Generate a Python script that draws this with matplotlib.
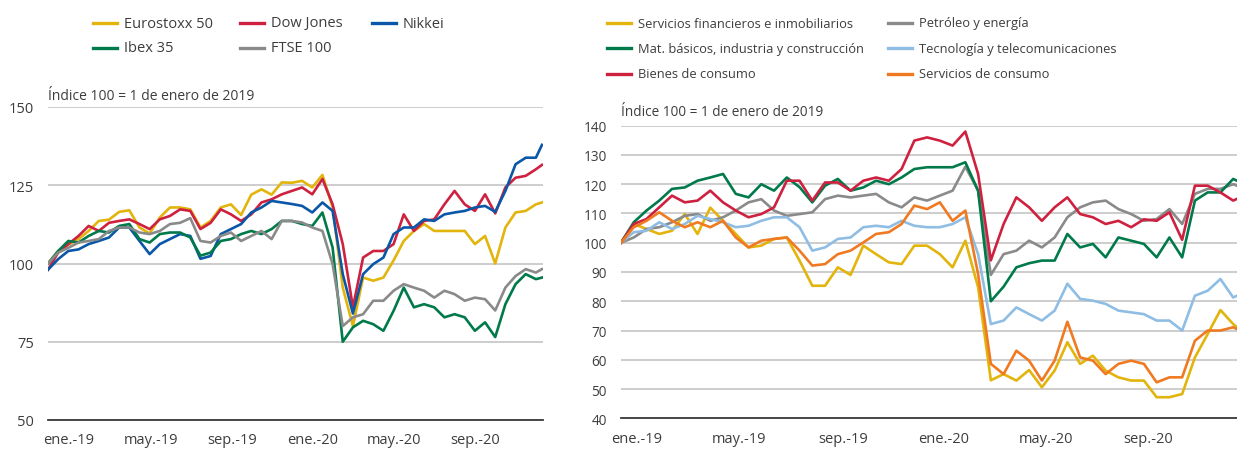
import numpy as np
import matplotlib
matplotlib.use("Agg")
import matplotlib.pyplot as plt
from matplotlib.lines import Line2D

# Time axis: months since 1 Jan 2019 (half-month steps, plus the last trading day)
meses = np.arange(0, 24.5, 0.5)
t_izq = np.append(meses, 24.3)
t_der = np.append(meses, 24.15)

# Left panel: stock indices (index 100 = 1 Jan 2019)
eurostoxx = [100, 104, 106, 107.8, 110.4, 113.6, 114, 116.5, 117, 111.5, 109.6, 114.7, 117.9,
             117.9, 117.3, 111.5, 113.6, 117.9, 118.9, 115.5, 122, 123.7, 122, 125.9, 125.8,
             126.4, 124.3, 128.3, 118, 92.3, 80, 95.5, 94.5, 95.5, 101, 107.2, 110.4, 112.6,
             110.4, 110.4, 110.4, 110.4, 106.2, 108.8, 100, 111.5, 116.3, 116.8, 118.9, 119.5]
dow_jones = [98, 103.5, 106.2, 108.8, 112, 110.4, 113, 113.6, 114.1, 112.6, 111, 114.1, 115.2,
             117.3, 116.8, 111, 113, 117.3, 115.7, 113.6, 115.7, 119.5, 120.5, 122.1, 123.2,
             124.3, 122.1, 127, 118.9, 106.2, 86, 101.9, 104, 104, 106.2, 115.7, 110.4, 113.6,
             114.1, 118.9, 123.2, 118.9, 116.8, 122.1, 116, 124.3, 127.4, 128, 130.1, 131.5]
nikkei = [98, 101.4, 104, 104.5, 106.2, 107.2, 108.3, 111.5, 111.5, 107.2, 103, 106.2, 107.8,
          109.4, 108.8, 101.5, 102.4, 109.4, 111, 112.6, 116.3, 117.9, 120, 119.5, 119,
          118.4, 116.3, 119.5, 116.8, 96.6, 84, 96.6, 99.8, 101.9, 109.4, 111.5, 111.5, 114.1,
          113.6, 115.7, 116.3, 116.8, 117.9, 118.4, 116.5, 123.2, 131.7, 133.8, 133.8, 137.9]
ibex = [100, 104, 107.2, 106.7, 108.8, 110.4, 109.9, 112, 112.6, 107.8, 106.7, 109.4, 109.9,
        109.9, 108.3, 102.5, 103.5, 107.2, 107.8, 109.4, 110.4, 109.4, 111, 113.6, 113.6,
        112.6, 112, 116.3, 105.1, 75, 79.6, 81.7, 80.6, 78.5, 84.9, 92.3, 86, 87,
        86, 82.8, 83.8, 82.8, 78.5, 81.2, 76.5, 87, 93.4, 96.6, 95, 95.5]
ftse = [100, 103.5, 105, 106.7, 107.2, 107.8, 110.4, 111.5, 111.5, 109.9, 109.4, 110.4, 112.6,
        113, 114.5, 107.2, 106.7, 108.8, 109.9, 107.2, 108.8, 110.4, 107.8, 113.6, 113.6,
        113.1, 111.5, 110.4, 99.8, 80, 82.8, 83.8, 88.1, 88.1, 91.3, 93.4, 92.3, 91.3,
        89.1, 91.3, 90.2, 88.1, 89.1, 88.6, 85, 92.3, 96, 98.2, 97.1, 98.2]

# Right panel: Ibex sectors (index 100 = 1 Jan 2019)
financieros = [100, 106.4, 104.7, 103, 104.1, 109.8, 103, 112, 107.5, 103, 98.4, 99, 101.3,
               101.8, 93.9, 85.3, 85.3, 91.6, 89, 99, 96.1, 93.3, 92.7, 99, 99,
               96.1, 91.6, 100.7, 84.8, 53, 55.1, 52.9, 56.5, 50.6, 56.3, 66, 58.6, 61.4,
               56.3, 54, 52.9, 52.9, 47.2, 47.2, 48.3, 60.8, 68.8, 77, 72.2, 71.1]
petroleo = [100, 101.8, 104.7, 105.3, 107, 109.2, 109.8, 107.5, 108.7, 111, 113.8, 114.9, 111,
            109.2, 109.8, 110.4, 114.9, 116.1, 115.5, 116.1, 116.7, 113.8, 112.1, 115.5, 114.4,
            116.1, 117.8, 126, 117.8, 89, 96.1, 97.3, 100.7, 98.4, 101.8, 108.7, 112.1, 113.8,
            114.4, 111.5, 109.8, 107.5, 108.1, 111.5, 106.4, 116.7, 118.4, 118.4, 120, 119.5]
materiales = [100, 107, 111, 114.4, 118.4, 118.9, 121.2, 122.3, 123.5, 116.7, 115.5, 120, 117.8,
              122.3, 119, 113.8, 119.5, 121.8, 117.8, 118.9, 121.2, 120, 122.3, 125.2, 125.8,
              125.8, 125.8, 127.5, 117.8, 80, 85, 91.6, 93, 93.9, 93.9, 103, 98.4, 99.6,
              95, 101.8, 100.7, 99.6, 95, 101.8, 95, 114.4, 117.2, 117.2, 121.8, 121.2]
tecnologia = [100, 103.6, 104.1, 107, 104.7, 106.4, 109.2, 108.1, 107, 105.3, 105.8, 107.5, 108.7,
              108.7, 105.3, 97.3, 98.4, 101.3, 101.8, 105.3, 105.8, 105.3, 107.5, 105.8, 105.3,
              105.3, 106.4, 108.7, 96.1, 72.2, 73.4, 77.9, 75.6, 73.4, 76.8, 86, 80.8, 80.2,
              79.1, 76.8, 76.2, 75.6, 73.4, 73.4, 70, 81.9, 83.6, 87.6, 81.3, 81.9]
bienes = [100, 106.4, 108.1, 112.1, 116.1, 113.8, 114.4, 117.8, 113.8, 111, 108.7, 109.8, 112.1,
          121.2, 121.2, 114.4, 120.6, 120.6, 117.8, 121.2, 122.3, 121.2, 125.2, 134.9, 136,
          134.9, 133.2, 138, 123.5, 94, 106.4, 115.5, 112.1, 107.5, 112.1, 115.5, 109.8, 108.7,
          106.4, 107.5, 105.3, 108, 107.5, 110.4, 101, 119.5, 119.5, 117.2, 114.4, 115]
serv_consumo = [100, 105.3, 107.5, 110.4, 107.5, 105.3, 107, 105.3, 107.5, 101.8, 98.4, 100.7, 101.3,
                101.8, 97.3, 92.2, 92.7, 96.1, 97.3, 100.1, 103, 103.6, 106.4, 112.7, 111.5,
                113.8, 107.5, 111, 89.3, 58.6, 55.1, 63.1, 59.7, 52.9, 59.7, 73, 60.8, 59.7,
                55.1, 58.6, 59.7, 58.6, 52.3, 54, 54, 66.5, 70, 70, 71.1, 70.5]

etiquetas_x = ["ene.-19", "may.-19", "sep.-19", "ene.-20", "may.-20", "sep.-20"]

AMARILLO = "#E2B40C"
ROJO = "#CE2140"
AZUL = "#0A57A8"
VERDE = "#007A4A"
GRIS = "#8A8A8A"
CELESTE = "#8FBDE3"
NARANJA = "#F07A21"
TEXTO = "#3d3d3d"

W, H = 1237, 452

plt.rcParams['font.family'] = ['Open Sans', 'DejaVu Sans']
fig = plt.figure(figsize=(W / 100, H / 100), dpi=100)


def px_box(x0, y_top, x1, y_bottom):
    """Axes rectangle from pixel coordinates (top-left origin)"""
    return [x0 / W, (H - y_bottom) / H, (x1 - x0) / W, (y_bottom - y_top) / H]


def style_axes(ax, yticks, xticks, xmax):
    """Shared look: grid lines, no ticks, dark baseline"""
    for side in ['top', 'right', 'left']:
        ax.spines[side].set_visible(False)
    ax.spines['bottom'].set_color('#3a3a3a')
    ax.spines['bottom'].set_linewidth(1.3)
    ax.set_yticks(yticks)
    ax.set_ylim(yticks[0], yticks[-1])
    ax.set_xlim(0, xmax)
    ax.set_xticks(xticks)
    ax.set_xticklabels(etiquetas_x)
    ax.grid(axis='y', color='#c9c9c9', linewidth=1.3)
    ax.set_axisbelow(True)
    ax.tick_params(length=0, labelsize=10.5, colors=TEXTO)
    ax.tick_params(axis='y', pad=10)
    ax.tick_params(axis='x', pad=9)
    ax.patch.set_alpha(0)


def legend_entry(x, y, color, label, size=10.5):
    """Manual legend entry at pixel position (x = line start, y = line center)"""
    fig.add_artist(Line2D([x / W, (x + 24) / W], [(H - y) / H] * 2, color=color, lw=2.4,
                          transform=fig.transFigure))
    fig.text((x + 31) / W, (H - y) / H, label, fontsize=size, color=TEXTO, va='center', ha='left')


# ---- Left panel ----
ax1 = fig.add_axes(px_box(48, 108, 543, 421))
series_izq = [(eurostoxx, AMARILLO), (dow_jones, ROJO), (nikkei, AZUL), (ibex, VERDE), (ftse, GRIS)]
for valores, color in series_izq:
    ax1.plot(t_izq, valores, color=color, lw=1.9, solid_joinstyle='round')
style_axes(ax1, [50, 75, 100, 125, 150], [1.03, 5.05, 9.05, 13.03, 17.02, 21.0], 24.35)
fig.text(48 / W, (H - 97) / H, "Índice 100 = 1 de enero de 2019", fontsize=10, color=TEXTO,
         va='center', ha='left')

legend_entry(93, 24, AMARILLO, "Eurostoxx 50")
legend_entry(240, 24, ROJO, "Dow Jones")
legend_entry(372, 24, AZUL, "Nikkei")
legend_entry(93, 49, VERDE, "Ibex 35")
legend_entry(240, 49, GRIS, "FTSE 100")

# ---- Right panel ----
ax2 = fig.add_axes(px_box(621, 126.7, 1237, 419.3))
series_der = [(financieros, AMARILLO), (petroleo, GRIS), (materiales, VERDE),
              (tecnologia, CELESTE), (bienes, ROJO), (serv_consumo, NARANJA)]
for valores, color in series_der:
    ax2.plot(t_der, valores, color=color, lw=1.9, solid_joinstyle='round')
style_axes(ax2, list(range(40, 150, 10)), [0.63, 4.63, 8.7, 12.63, 16.67, 20.67], 24.15)
ax2.tick_params(axis='y', pad=10, labelsize=9.8)
fig.text(621 / W, (H - 113) / H, "Índice 100 = 1 de enero de 2019", fontsize=9.8, color=TEXTO,
         va='center', ha='left')

legend_entry(607, 24, AMARILLO, "Servicios financieros e inmobiliarios", 9.3)
legend_entry(888, 24, GRIS, "Petróleo y energía", 9.3)
legend_entry(607, 49, VERDE, "Mat. básicos, industria y construcción", 9.3)
legend_entry(888, 49, CELESTE, "Tecnología y telecomunicaciones", 9.3)
legend_entry(607, 75, ROJO, "Bienes de consumo", 9.3)
legend_entry(888, 75, NARANJA, "Servicios de consumo", 9.3)

fig.savefig("out.png", dpi=100)
